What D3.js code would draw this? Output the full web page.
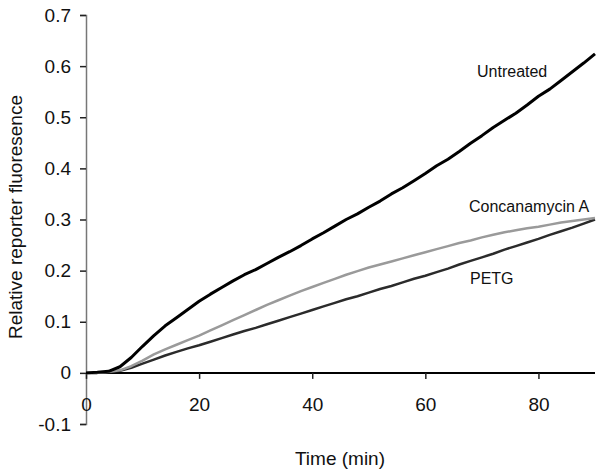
<!DOCTYPE html>
<html>
<head>
<meta charset="utf-8">
<script src="https://cdn.jsdelivr.net/npm/d3@7"></script>
<style>
  body { margin: 0; background: #fff; }
  text { font-family: "Liberation Sans", Arial, sans-serif; }
</style>
</head>
<body>
<script>
// time points (min), one reading every 2 min
const time = d3.range(0, 92, 2);

const untreated = [0, 0.001, 0.003, 0.012, 0.030, 0.052, 0.073, 0.092, 0.108, 0.124,
  0.140, 0.154, 0.167, 0.180, 0.192, 0.202, 0.214, 0.226, 0.237, 0.249,
  0.262, 0.274, 0.287, 0.300, 0.311, 0.324, 0.336, 0.350, 0.362, 0.376,
  0.390, 0.405, 0.418, 0.433, 0.449, 0.464, 0.480, 0.494, 0.508, 0.524,
  0.541, 0.555, 0.572, 0.589, 0.606, 0.624];

const concanamycin = [0, 0, 0.002, 0.005, 0.013, 0.024, 0.036, 0.046, 0.055, 0.064,
  0.073, 0.083, 0.093, 0.103, 0.113, 0.123, 0.133, 0.142, 0.151, 0.160,
  0.168, 0.176, 0.184, 0.192, 0.199, 0.206, 0.212, 0.218, 0.224, 0.230,
  0.236, 0.242, 0.248, 0.254, 0.259, 0.265, 0.270, 0.275, 0.279, 0.283,
  0.286, 0.290, 0.294, 0.297, 0.300, 0.303];

const petg = [0, 0, 0.001, 0.004, 0.010, 0.018, 0.026, 0.034, 0.041, 0.048,
  0.054, 0.061, 0.068, 0.075, 0.082, 0.088, 0.095, 0.102, 0.109, 0.116,
  0.123, 0.130, 0.137, 0.144, 0.150, 0.157, 0.164, 0.170, 0.177, 0.184,
  0.190, 0.197, 0.204, 0.212, 0.219, 0.226, 0.233, 0.241, 0.248, 0.255,
  0.262, 0.270, 0.277, 0.284, 0.292, 0.300];

const xTicks = [0, 20, 40, 60, 80];
const yTicks = [-0.1, 0, 0.1, 0.2, 0.3, 0.4, 0.5, 0.6, 0.7];
const yTickLabels = ["-0.1", "0", "0.1", "0.2", "0.3", "0.4", "0.5", "0.6", "0.7"];

const series = [
  {name: "PETG", values: petg, color: "#2b2b2b", width: 2.5, lx: 470, ly: 284},
  {name: "Concanamycin A", values: concanamycin, color: "#9a9a9a", width: 2.5, lx: 469, ly: 212},
  {name: "Untreated", values: untreated, color: "#000", width: 3, lx: 477, ly: 77}
];

const W = 600, H = 474;
const x = d3.scaleLinear().domain([0, 90]).range([86, 595]);
const y = d3.scaleLinear().domain([-0.1, 0.7]).range([424, 15]);

const svg = d3.select("body").append("svg")
  .attr("width", W)
  .attr("height", H);

// y axis (grey spine, ticks to the left)
const yAxis = svg.append("g")
  .attr("transform", `translate(${x(0)},0)`)
  .call(d3.axisLeft(y).tickValues(yTicks).tickSize(6).tickPadding(9)
    .tickFormat((d, i) => yTickLabels[i]));
yAxis.select(".domain").attr("stroke", "#777").attr("stroke-width", 1.5);
yAxis.selectAll(".tick line").attr("stroke", "#222").attr("stroke-width", 1.5);
yAxis.selectAll(".tick text").attr("font-size", 19).attr("fill", "#111");

// x axis drawn along y = 0
const xAxis = svg.append("g")
  .attr("transform", `translate(0,${y(0)})`)
  .call(d3.axisBottom(x).tickValues(xTicks).tickSize(6).tickPadding(19));
xAxis.select(".domain").attr("stroke", "#000").attr("stroke-width", 2)
  .attr("d", `M${x(0)},0H${x(90)}`);
xAxis.selectAll(".tick line").attr("stroke", "#222").attr("stroke-width", 1.5);
xAxis.selectAll(".tick text").attr("font-size", 19).attr("fill", "#111");

const line = d3.line()
  .x((d, i) => x(time[i]))
  .y(d => y(d));

svg.selectAll("path.series")
  .data(series)
  .join("path")
  .attr("class", "series")
  .attr("d", d => line(d.values))
  .attr("fill", "none")
  .attr("stroke", d => d.color)
  .attr("stroke-width", d => d.width)
  .attr("stroke-linejoin", "round");

svg.selectAll("text.lbl")
  .data(series)
  .join("text")
  .attr("class", "lbl")
  .attr("x", d => d.lx)
  .attr("y", d => d.ly)
  .attr("font-size", 16)
  .attr("fill", "#111")
  .text(d => d.name);

// axis titles
svg.append("text")
  .attr("x", 340)
  .attr("y", 465)
  .attr("text-anchor", "middle")
  .attr("font-size", 19)
  .attr("fill", "#111")
  .text("Time (min)");

svg.append("text")
  .attr("transform", "translate(22,217) rotate(-90)")
  .attr("text-anchor", "middle")
  .attr("font-size", 19)
  .attr("fill", "#111")
  .text("Relative reporter fluoresence");
</script>
</body>
</html>
